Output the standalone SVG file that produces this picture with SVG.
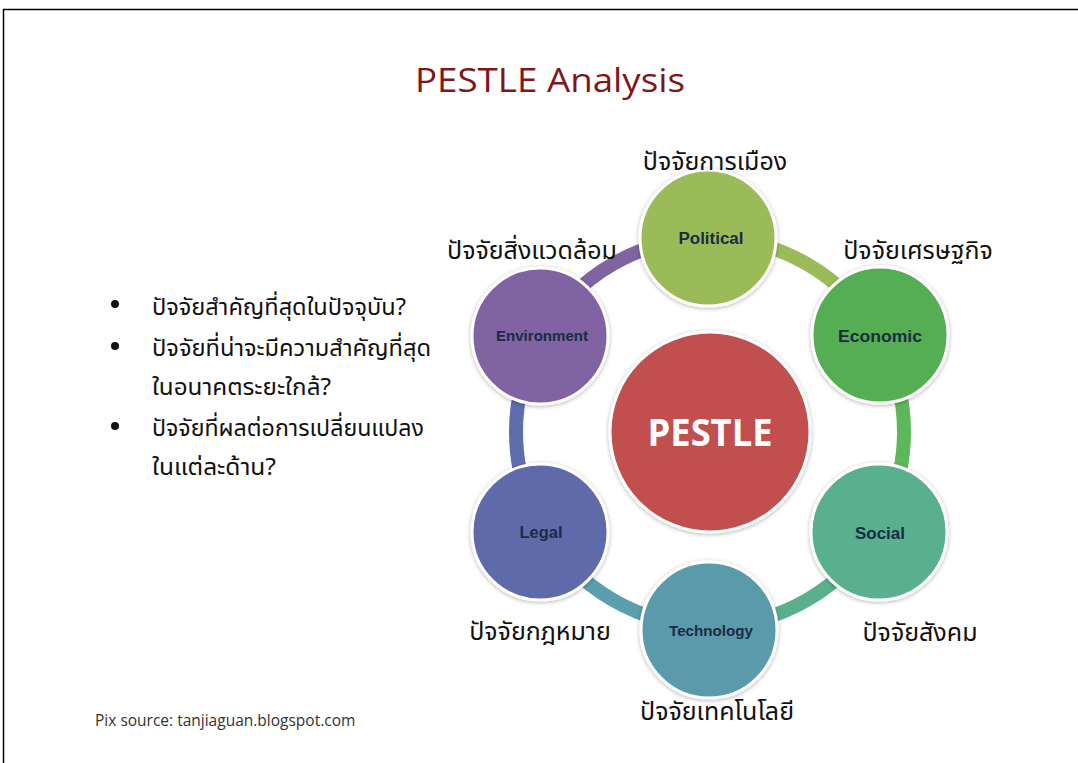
<svg xmlns="http://www.w3.org/2000/svg" width="1078" height="763" viewBox="0 0 1078 763">
<defs>
<style>
.th{font-family:"Noto Sans","Noto Sans Thai","Liberation Sans",sans-serif;fill:#111;}
.lbl{font-family:"Liberation Sans",sans-serif;font-weight:bold;fill:#1c2a44;text-anchor:middle;}
.node{stroke:#ffffff;stroke-width:3;}
.ring{fill:none;stroke-width:14;}
</style>
<filter id="sh" x="-20%" y="-20%" width="140%" height="140%">
<feDropShadow dx="0" dy="1" stdDeviation="2" flood-color="#000" flood-opacity="0.3"/>
</filter>
</defs>
<rect x="0" y="0" width="1078" height="763" fill="#fff"/>
<path d="M3.5 763 V9.5 H1078" fill="none" stroke="#000" stroke-width="1.5"/>
<text x="550" y="92" font-family="Open Sans, Liberation Sans, sans-serif" font-size="32" fill="#7f1619" text-anchor="middle" textLength="270" lengthAdjust="spacingAndGlyphs">PESTLE  Analysis</text>

<g id="connectors">
<path class="ring" stroke="#9bbb59" d="M710 238 A194 194 0 0 1 878 335"/>
<path class="ring" stroke="#5db85a" d="M878 335 A194 194 0 0 1 878 529"/>
<path class="ring" stroke="#5bb08c" d="M878 529 A194 194 0 0 1 710 626"/>
<path class="ring" stroke="#5b9fae" d="M710 626 A194 194 0 0 1 542 529"/>
<path class="ring" stroke="#5e6dae" d="M542 529 A194 194 0 0 1 542 335"/>
<path class="ring" stroke="#8064a2" d="M542 335 A194 194 0 0 1 710 238"/>
</g>

<g id="pestle"><circle class="node" filter="url(#sh)" cx="710" cy="432" r="100" fill="#c0504d"/>
<text x="710" y="446" font-family="Open Sans, Liberation Sans, sans-serif" font-weight="bold" font-size="38" fill="#fff" text-anchor="middle" textLength="125" lengthAdjust="spacingAndGlyphs">PESTLE</text></g>

<g id="political"><circle class="node" filter="url(#sh)" cx="708" cy="238" r="68" fill="#9bbb59"/>
<text class="lbl" x="711" y="244" font-size="16" textLength="65" lengthAdjust="spacingAndGlyphs">Political</text></g>
<g id="economic"><circle class="node" filter="url(#sh)" cx="880" cy="335" r="68" fill="#55ae52"/>
<text class="lbl" x="880" y="342" font-size="17" textLength="84" lengthAdjust="spacingAndGlyphs">Economic</text></g>
<g id="social"><circle class="node" filter="url(#sh)" cx="879" cy="532" r="68" fill="#58b08e"/>
<text class="lbl" x="880" y="539" font-size="16" textLength="50" lengthAdjust="spacingAndGlyphs">Social</text></g>
<g id="technology"><circle class="node" filter="url(#sh)" cx="709" cy="630" r="68" fill="#5a9bab"/>
<text class="lbl" x="711" y="636" font-size="15" textLength="84" lengthAdjust="spacingAndGlyphs">Technology</text></g>
<g id="legal"><circle class="node" filter="url(#sh)" cx="540" cy="532" r="68" fill="#5e6aaa"/>
<text class="lbl" x="541" y="538" font-size="16" textLength="43" lengthAdjust="spacingAndGlyphs">Legal</text></g>
<g id="environment"><circle class="node" filter="url(#sh)" cx="540" cy="336" r="68" fill="#8063a2"/>
<text class="lbl" x="542" y="341" font-size="14" textLength="92" lengthAdjust="spacingAndGlyphs">Environment</text></g>

<g id="labels" font-size="25">
<text class="th" x="715" y="170" text-anchor="middle">ปัจจัยการเมือง</text>
<text class="th" x="532" y="259" text-anchor="middle">ปัจจัยสิ่งแวดล้อม</text>
<text class="th" x="918" y="259" text-anchor="middle">ปัจจัยเศรษฐกิจ</text>
<text class="th" x="540" y="640" text-anchor="middle">ปัจจัยกฎหมาย</text>
<text class="th" x="920" y="641" text-anchor="middle">ปัจจัยสังคม</text>
<text class="th" x="717" y="720" text-anchor="middle">ปัจจัยเทคโนโลยี</text>
</g>

<g id="bullets" font-size="23.5">
<circle cx="115" cy="304" r="4" fill="#111"/>
<circle cx="115" cy="346" r="4" fill="#111"/>
<circle cx="115" cy="426" r="4" fill="#111"/>
<text class="th" x="152" y="315" textLength="254" lengthAdjust="spacingAndGlyphs">ปัจจัยสำคัญที่สุดในปัจจุบัน?</text>
<text class="th" x="152" y="356" textLength="279" lengthAdjust="spacingAndGlyphs">ปัจจัยที่น่าจะมีความสำคัญที่สุด</text>
<text class="th" x="152" y="395" textLength="179" lengthAdjust="spacingAndGlyphs">ในอนาคตระยะใกล้?</text>
<text class="th" x="152" y="436" textLength="272" lengthAdjust="spacingAndGlyphs">ปัจจัยที่ผลต่อการเปลี่ยนแปลง</text>
<text class="th" x="152" y="475" textLength="124" lengthAdjust="spacingAndGlyphs">ในแต่ละด้าน?</text>
</g>

<text x="95" y="726" font-family="Open Sans, Liberation Sans, sans-serif" font-size="15.5" fill="#333">Pix source: tanjiaguan.blogspot.com</text>
</svg>
